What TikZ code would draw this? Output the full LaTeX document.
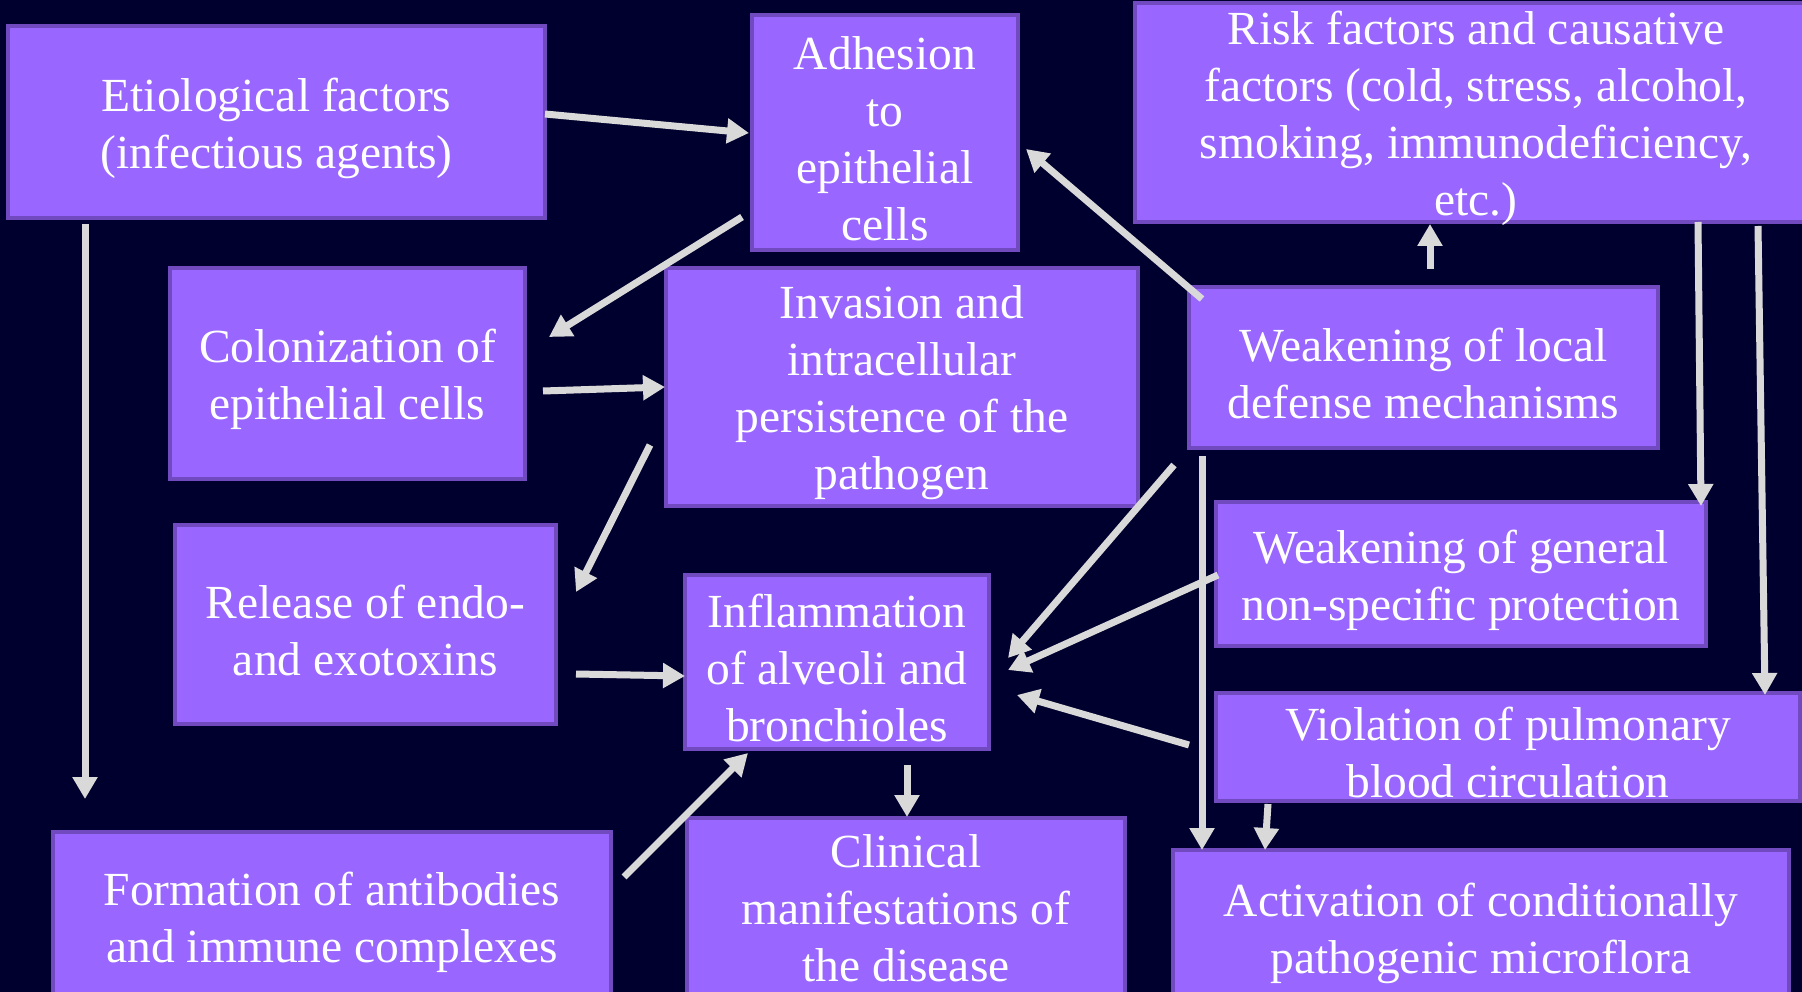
\documentclass[tikz,border=0pt]{standalone}
\usepackage{fontspec}
\setmainfont{Liberation Serif}
\usetikzlibrary{arrows.meta,calc}
\definecolor{bgcol}{RGB}{0,0,46}
\definecolor{boxfill}{RGB}{153,102,255}
\definecolor{boxline}{RGB}{112,74,190}
\definecolor{arrcol}{RGB}{217,217,217}
\tikzset{
  box/.style={draw=boxline, fill=boxfill, line width=4.5pt, rectangle, inner sep=0pt, outer sep=0pt},
  txt/.style={align=center, text=white, inner sep=0pt, font=\fontsize{47.5}{57}\selectfont},
  arr/.style={draw=arrcol, line width=7pt, -{Triangle[length=22pt,width=24pt]}}
}
\newcommand{\mybox}[6][6]{%
  \node[box, minimum width=#4, minimum height=#5] (#2) at #3 {};
  \node[txt] (#2-t) at ($(#2.center)+(0,#1)$) {#6};
}
\begin{document}
\begin{tikzpicture}[x=1pt,y=-1pt]
\fill[bgcol] (0,0) rectangle (1802,992);
\useasboundingbox (0,0) rectangle (1802,992);
\clip (0,0) rectangle (1802,992);
\mybox{etio}{(276.5,122)}{537}{192}{Etiological factors\\(infectious agents)}
\mybox{adh}{(885,132.5)}{266}{235}{Adhesion\\to\\epithelial\\cells}
\mybox{risk}{(1476,112.5)}{682}{219}{Risk factors and causative\\factors (cold, stress, alcohol,\\smoking, immunodeficiency,\\etc.)}
\mybox{col}{(347.5,373.5)}{355}{211}{Colonization of\\epithelial cells}
\mybox{inv}{(902,387)}{472}{238}{Invasion and\\intracellular\\persistence of the\\pathogen}
\mybox{wloc}{(1423.5,367.5)}{469}{161}{Weakening of local\\defense mechanisms}
\mybox{rel}{(365.5,624.5)}{381}{199}{Release of endo-\\and exotoxins}
\mybox{infl}{(837,662)}{304}{174}{Inflammation\\of alveoli and\\bronchioles}
\mybox{wgen}{(1461,574)}{490}{144}{Weakening of general\\non-specific protection}
\mybox{viol}{(1508,747)}{584}{108}{Violation of pulmonary\\blood circulation}
\mybox{form}{(332,916)}{558}{168}{Formation of antibodies\\and immune complexes}
\mybox[0]{clin}{(906,908)}{438}{180}{Clinical\\manifestations of\\the disease}
\mybox{act}{(1481,927)}{616}{154}{Activation of conditionally\\pathogenic microflora}

\draw[arr] ($(etio.north west)+(537,88)$) -- ($(adh.north west)+(-3,118)$);
\draw[arr] ($(etio.north west)+(77,198)$) -- ($(form.north west)+(32,-33)$);
\draw[arr] ($(adh.north west)+(-10,202)$) -- ($(col.north west)+(379,69)$);
\draw[arr] ($(wloc.north west)+(13,12)$) -- ($(adh.north west)+(274,134)$);
\draw[arr] ($(wloc.north west)+(241,-18)$) -- ($(risk.north west)+(295,221)$);
\draw[arr] ($(col.north west)+(373,123)$) -- ($(inv.north west)+(-1,119)$);
\draw[arr] ($(inv.north west)+(-16,177)$) -- ($(rel.north west)+(401,67)$);
\draw[arr] ($(rel.north west)+(401,149)$) -- ($(infl.north west)+(0,101)$);
\draw[arr] ($(wloc.north west)+(-15,178)$) -- ($(infl.north west)+(323,83)$);
\draw[arr] ($(wgen.north west)+(2,73)$) -- ($(infl.north west)+(323,95)$);
\draw[arr] ($(viol.north west)+(-27,52)$) -- ($(infl.north west)+(332,120)$);
\draw[arr] ($(form.north west)+(571,45)$) -- ($(infl.north west)+(63,178)$);
\draw[arr] ($(infl.north west)+(222,190)$) -- ($(clin.north west)+(220,-1)$);
\draw[arr] ($(wloc.north west)+(13,169)$) -- ($(act.north west)+(29,0)$);
\draw[arr] ($(viol.north west)+(52,111)$) -- ($(act.north west)+(92,0)$);
\draw[arr] ($(risk.north west)+(563,219)$) -- ($(wgen.north west)+(485,4)$);
\draw[arr] ($(risk.north west)+(623,223)$) -- ($(viol.north west)+(549,2)$);
\end{tikzpicture}
\end{document}
